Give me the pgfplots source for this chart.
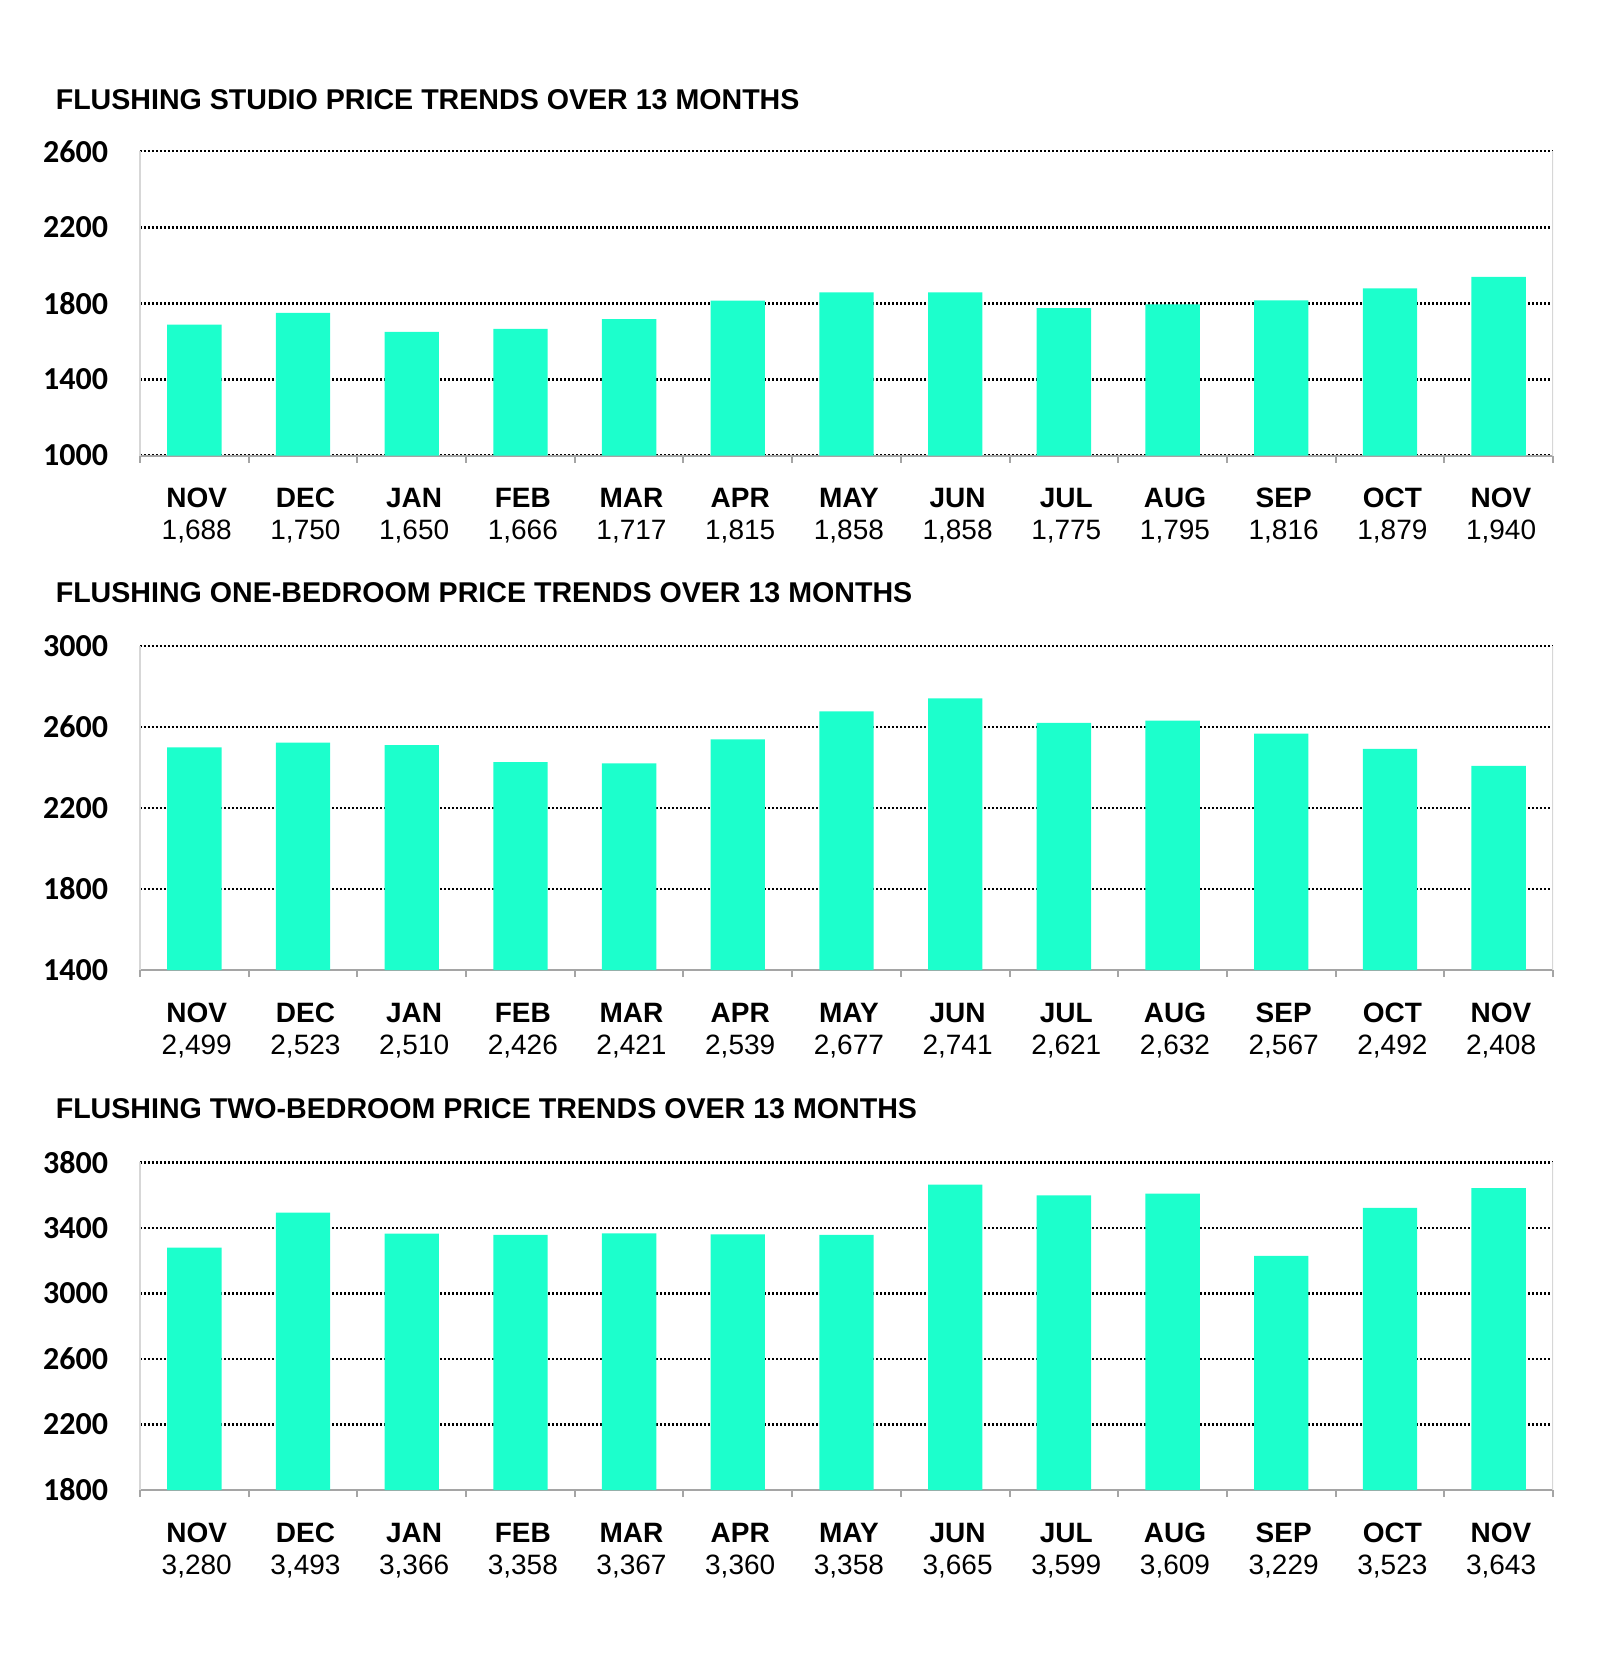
\documentclass[border=0pt]{standalone}
\usepackage{pgfplots}
\pgfplotsset{compat=1.18}
\usepackage{fontspec}
\setmainfont{Liberation Sans}
\newfontfamily\carlito{Carlito}
\definecolor{barc}{RGB}{28,255,204}
\definecolor{axgray}{RGB}{165,165,165}
\definecolor{lightax}{RGB}{215,215,215}
\newcommand{\ml}[2]{\textbf{#1}\rule{0pt}{5.5pt}\\#2}
\pgfplotsset{
  mystyle/.style={
    scale only axis,
    width=353.25pt,
    xmin=-0.5, xmax=12.5,
    xtick={0,...,12},
    minor xtick={-0.5,0.5,...,12.5},
    axis x line*=bottom,
    axis y line*=left,
    x axis line style={draw=axgray, line width=0.55pt, -},
    y axis line style={draw=lightax, line width=0.3pt, -},
    tick align=outside,
    major tick length=0pt,
    minor tick length=1.75pt,
    major x tick style={draw=none},
    minor x tick style={draw=axgray, line width=0.5pt},
    ytick style={draw=none},
    ymajorgrids,
    major grid style={black, line width=0.6pt, dash pattern=on 0.5pt off 0.5pt},
    yticklabel style={font=\carlito\bfseries\fontsize{8}{9}\selectfont, anchor=east, inner sep=0pt, xshift=-7.8pt},
    xticklabel style={font=\fontsize{7}{8}\selectfont, align=center, anchor=north, inner sep=0pt, yshift=-7.3pt, xshift=0.6pt},
    /pgf/number format/.cd, 1000 sep={}, assume math mode=true,
  },
  mybar/.style={ybar, bar width=0.5, fill=barc, draw=none, bar shift=0pt},
}
\begin{document}
\begin{tikzpicture}
\path[use as bounding box] (0pt,0pt) rectangle (400pt,-417.5pt);
\node[anchor=base west, inner sep=0pt, font=\bfseries\fontsize{7.15}{8}\selectfont] at (13.75pt,-27.45pt) {FLUSHING STUDIO PRICE TRENDS OVER 13 MONTHS};
\node[anchor=base west, inner sep=0pt, font=\bfseries\fontsize{7.15}{8}\selectfont] at (13.75pt,-150.55pt) {FLUSHING ONE-BEDROOM PRICE TRENDS OVER 13 MONTHS};
\node[anchor=base west, inner sep=0pt, font=\bfseries\fontsize{7.15}{8}\selectfont] at (13.75pt,-279.6pt) {FLUSHING TWO-BEDROOM PRICE TRENDS OVER 13 MONTHS};

\begin{axis}[mystyle, at={(35pt,-113.9pt)}, anchor=south west, height=76.1pt,
  ymin=1000, ymax=2600, ytick={1000,1400,...,2600},
  xticklabels={{\ml{NOV}{1,688}},{\ml{DEC}{1,750}},{\ml{JAN}{1,650}},{\ml{FEB}{1,666}},{\ml{MAR}{1,717}},{\ml{APR}{1,815}},{\ml{MAY}{1,858}},{\ml{JUN}{1,858}},{\ml{JUL}{1,775}},{\ml{AUG}{1,795}},{\ml{SEP}{1,816}},{\ml{OCT}{1,879}},{\ml{NOV}{1,940}}}]
\addplot[mybar] coordinates {(0,1688) (1,1750) (2,1650) (3,1666) (4,1717) (5,1815) (6,1858) (7,1858) (8,1775) (9,1795) (10,1816) (11,1879) (12,1940)};
\draw[lightax, line width=0.3pt] (rel axis cs:1,0) -- (rel axis cs:1,1);
\end{axis}

\begin{axis}[mystyle, at={(35pt,-242.5pt)}, anchor=south west, height=81pt,
  ymin=1400, ymax=3000, ytick={1400,1800,...,3000},
  xticklabels={{\ml{NOV}{2,499}},{\ml{DEC}{2,523}},{\ml{JAN}{2,510}},{\ml{FEB}{2,426}},{\ml{MAR}{2,421}},{\ml{APR}{2,539}},{\ml{MAY}{2,677}},{\ml{JUN}{2,741}},{\ml{JUL}{2,621}},{\ml{AUG}{2,632}},{\ml{SEP}{2,567}},{\ml{OCT}{2,492}},{\ml{NOV}{2,408}}}]
\addplot[mybar] coordinates {(0,2499) (1,2523) (2,2510) (3,2426) (4,2421) (5,2539) (6,2677) (7,2741) (8,2621) (9,2632) (10,2567) (11,2492) (12,2408)};
\draw[lightax, line width=0.3pt] (rel axis cs:1,0) -- (rel axis cs:1,1);
\end{axis}

\begin{axis}[mystyle, at={(35pt,-372.5pt)}, anchor=south west, height=81.9pt,
  ymin=1800, ymax=3800, ytick={1800,2200,...,3800},
  xticklabels={{\ml{NOV}{3,280}},{\ml{DEC}{3,493}},{\ml{JAN}{3,366}},{\ml{FEB}{3,358}},{\ml{MAR}{3,367}},{\ml{APR}{3,360}},{\ml{MAY}{3,358}},{\ml{JUN}{3,665}},{\ml{JUL}{3,599}},{\ml{AUG}{3,609}},{\ml{SEP}{3,229}},{\ml{OCT}{3,523}},{\ml{NOV}{3,643}}}]
\addplot[mybar] coordinates {(0,3280) (1,3493) (2,3366) (3,3358) (4,3367) (5,3360) (6,3358) (7,3665) (8,3599) (9,3609) (10,3229) (11,3523) (12,3643)};
\draw[lightax, line width=0.3pt] (rel axis cs:1,0) -- (rel axis cs:1,1);
\end{axis}
\end{tikzpicture}
\end{document}
